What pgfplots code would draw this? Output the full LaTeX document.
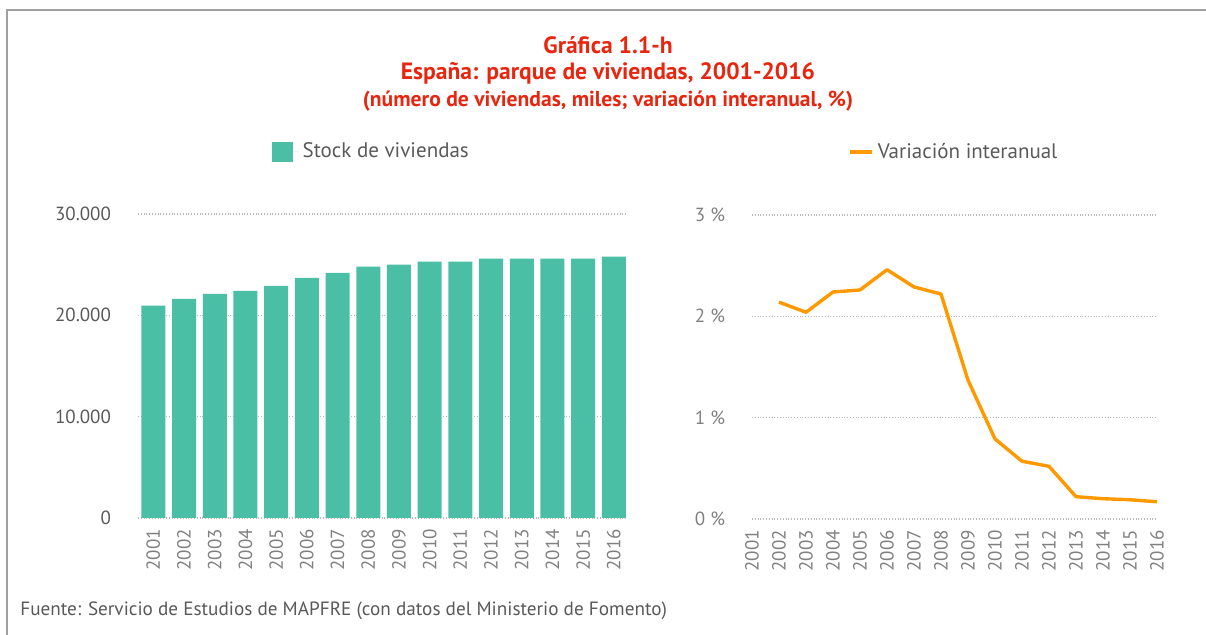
\documentclass[border=0pt]{standalone}
\usepackage{fontspec}
\setmainfont{PT Sans}
\usepackage{pgfplots}
\pgfplotsset{compat=1.18}

\definecolor{barteal}{HTML}{4BBFA5}
\definecolor{lineorange}{HTML}{FF9900}
\definecolor{titlered}{HTML}{E8260F}
\definecolor{txtgray}{HTML}{595959}
\definecolor{lightgray}{HTML}{808080}
\definecolor{framegray}{HTML}{A0A0A0}

\pgfplotsset{
  common/.style={
    scale only axis,
    anchor=south west,
    height=152pt,
    axis line style={draw=none},
    major tick length=0pt,
    ymajorgrids,
    scaled y ticks=false,
    grid style={densely dotted, gray!55, line width=0.6pt},
    xtick={2001,...,2016},
    /pgf/number format/assume math mode=true,
    /pgf/number format/set thousands separator={},
    xticklabel style={rotate=90, anchor=east, font=\fontsize{9.5}{11}\selectfont, text=lightgray, xshift=-2pt},
    yticklabel style={font=\fontsize{9.5}{11}\selectfont, xshift=-10pt},
    legend style={draw=none, fill=none, font=\fontsize{10.5}{12}\selectfont, text=txtgray,
      /tikz/every even column/.append style={column sep=0pt}},
    clip=false,
  }
}

\begin{document}
\begin{tikzpicture}[x=1pt,y=1pt]
\useasboundingbox (0,0) rectangle (603,317.5);
\draw[framegray, line width=1pt] (3.5,0) -- (3.5,312.5) -- (603,312.5);

\node[text=titlered, font=\fontsize{11.8}{14}\selectfont\bfseries] at (304,295) {Gráfica 1.1-h};
\node[text=titlered, font=\fontsize{11.8}{14}\selectfont\bfseries] at (304,281) {España: parque de viviendas, 2001-2016};
\node[text=titlered, font=\fontsize{10.8}{12}\selectfont\bfseries] at (304,267) {(número de viviendas, miles; variación interanual, \%)};

\begin{axis}[common,
  at={(69pt,58.5pt)}, width=245pt,
  xmin=2000.5, xmax=2016.46,
  ymin=0, ymax=30000,
  ytick={0,10000,20000,30000},
  yticklabels={0,10.000,20.000,30.000},
  yticklabel style={text=txtgray},
  legend style={at={(0.478,1.204)}, anchor=center},
  legend image code/.code={\fill[barteal] (-4.5pt,-5.2pt) rectangle (6pt,5.2pt); \path (-4.5pt,0pt) -- (9pt,0pt);},
]
\addplot[ybar, bar width=12pt, fill=barteal, draw=none] coordinates {
(2001,20946) (2002,21633) (2003,22127) (2004,22424) (2005,22917)
(2006,23707) (2007,24201) (2008,24794) (2009,24992) (2010,25288)
(2011,25288) (2012,25584) (2013,25584) (2014,25584) (2015,25584)
(2016,25782)};
\addlegendentry{Stock de viviendas}
\end{axis}

\begin{axis}[common,
  at={(376pt,58pt)}, width=202.5pt,
  xmin=2001, xmax=2016,
  ymin=0, ymax=3,
  ytick={0,1,2,3},
  yticklabels={0 \%,1 \%,2 \%,3 \%},
  yticklabel style={text=lightgray},
  legend style={at={(0.501,1.207)}, anchor=center},
  legend image code/.code={\draw[lineorange, line width=1.7pt] (-3pt,0pt) -- (8pt,0pt);},
]
\addplot[lineorange, line width=1.7pt, line join=round] coordinates {
(2002,2.14) (2003,2.04) (2004,2.24) (2005,2.26) (2006,2.46)
(2007,2.29) (2008,2.22) (2009,1.37) (2010,0.79) (2011,0.57)
(2012,0.52) (2013,0.22) (2014,0.20) (2015,0.19) (2016,0.17)};
\addlegendentry{Variación interanual}
\end{axis}

\node[anchor=base west, inner sep=0pt, text=txtgray, font=\fontsize{9.6}{11}\selectfont] at (10,9.5) {Fuente: Servicio de Estudios de MAPFRE (con datos del Ministerio de Fomento)};
\end{tikzpicture}
\end{document}
